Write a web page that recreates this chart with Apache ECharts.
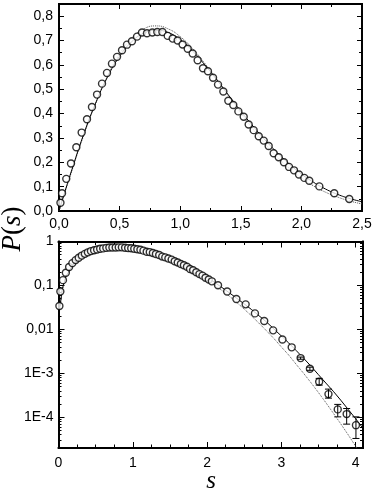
<!DOCTYPE html>
<html>
<head>
<meta charset="utf-8">
<script src="https://cdn.jsdelivr.net/npm/echarts@6/dist/echarts.min.js"></script>
<style>
  html, body { margin: 0; padding: 0; background: #fff; }
  #chart { width: 377px; height: 496px; }
</style>
</head>
<body>
<div id="chart"></div>
<script>
// measured spacing distribution (circles), same set in both panels
const sData = [0.012, 0.025, 0.06, 0.099, 0.143, 0.187, 0.231, 0.272, 0.314, 0.355, 0.396, 0.437, 0.479, 0.52,
  0.561, 0.602, 0.644, 0.685, 0.726, 0.77, 0.811, 0.853, 0.897, 0.938, 0.979, 1.02, 1.062, 1.103, 1.144,
  1.188, 1.229, 1.271, 1.312, 1.356, 1.397, 1.438, 1.48, 1.524, 1.565, 1.606, 1.648, 1.689, 1.73, 1.771,
  1.813, 1.856, 1.898, 1.939, 1.98, 2.024, 2.065, 2.148, 2.271, 2.395,
  2.52, 2.645, 2.77, 2.89, 3.015, 3.14, 3.26, 3.385, 3.51, 3.635, 3.76, 3.88, 4.005]
const pData = [0.034, 0.073, 0.132, 0.195, 0.262, 0.322, 0.377, 0.427, 0.478, 0.523, 0.567, 0.605, 0.633, 0.66,
  0.683, 0.697, 0.716, 0.733, 0.73, 0.733, 0.735, 0.735, 0.719, 0.708, 0.7, 0.684, 0.666, 0.647, 0.619,
  0.586, 0.574, 0.547, 0.519, 0.491, 0.453, 0.435, 0.409, 0.387, 0.355, 0.332, 0.307, 0.289, 0.267, 0.237,
  0.221, 0.2, 0.181, 0.167, 0.15, 0.136, 0.124, 0.101, 0.073, 0.049,
  0.0371, 0.0231, 0.0155, 0.0095, 0.0059, 0.0039, 0.00222, 0.00127, 0.00064, 0.000336, 0.000151, 0.000118, 0.000066]

// error bars visible in the tail (lower panel)
const errS = [3.26, 3.385, 3.51, 3.635, 3.76, 3.88, 4.005]
const errLow = [0.00209, 0.00117, 0.000538, 0.000272, 0.000102, 0.0000697, 0.0000329]
const errHigh = [0.00234, 0.00138, 0.000766, 0.000437, 0.000196, 0.000158, 0.000102]

// curves: solid and dotted
const curveS = [0, 0.02, 0.05, 0.1, 0.2, 0.3, 0.4, 0.5, 0.6, 0.7, 0.8, 0.9, 1.0, 1.1, 1.2, 1.3, 1.4, 1.5,
  1.6, 1.7, 1.8, 1.9, 2.0, 2.1, 2.2, 2.3, 2.4, 2.5, 2.6, 2.7, 2.8, 2.9, 3.0, 3.1, 3.2, 3.3, 3.4, 3.5,
  3.6, 3.7, 3.8, 3.9, 4.0, 4.1]
const solidP = [0, 0.033, 0.082, 0.16, 0.31, 0.44, 0.55, 0.635, 0.695, 0.73, 0.742, 0.733, 0.703, 0.658,
  0.602, 0.54, 0.475, 0.41, 0.349, 0.292, 0.24, 0.193, 0.152, 0.118, 0.09, 0.068, 0.051, 0.038, 0.0282,
  0.0204, 0.0148, 0.0102, 0.0071, 0.0049, 0.0033, 0.0022, 0.00145, 0.00093, 0.0006, 0.00039, 0.000245,
  0.000151, 0.000093, 0.000056]
const dottedP = [0, 0.031, 0.078, 0.156, 0.305, 0.439, 0.554, 0.645, 0.71, 0.748, 0.76, 0.748, 0.716, 0.668,
  0.608, 0.542, 0.472, 0.403, 0.337, 0.276, 0.222, 0.175, 0.136, 0.103, 0.077, 0.057, 0.041, 0.029, 0.0202,
  0.0138, 0.0093, 0.0062, 0.004, 0.0026, 0.0016, 0.001, 0.00061, 0.000365, 0.000215, 0.000124, 0.000071,
  0.00004, 0.000022, 0.0000119]

// tick labels
const topXTicks = [0, 0.5, 1, 1.5, 2, 2.5]
const topYTicks = [0, 0.1, 0.2, 0.3, 0.4, 0.5, 0.6, 0.7, 0.8]
const botXTicks = [0, 1, 2, 3, 4]
const botYTicks = [1, 0.1, 0.01, 0.001, 0.0001]
const botYLabels = ['1', '0,1', '0,01', '1E-3', '1E-4']

const black = '#000'
const comma = v => v.toFixed(1).replace('.', ',')
const lg = v => Math.log10(v)

function steps(from, to, step, skip) {
  const out = []
  for (let v = from; v <= to + 1e-9; v += step) {
    const r = Math.round(v * 1000) / 1000
    if (!skip || !skip(r)) out.push(r)
  }
  return out
}

// one axis = one side of the frame with its ticks (inside)
function axis(gridIndex, position, min, max, ticks, len, labels, fmt, margin) {
  return {
    type: 'value',
    gridIndex,
    position,
    min,
    max,
    axisLine: { show: true, onZero: false, lineStyle: { color: black, width: 1.8 } },
    axisTick: { show: true, inside: true, length: len, customValues: ticks, lineStyle: { color: black, width: 1 } },
    axisLabel: labels ? {
      show: true, customValues: labels, formatter: fmt, color: black,
      fontSize: 14, fontFamily: 'Liberation Sans', margin: margin
    } : { show: false },
    splitLine: { show: false }
  }
}

const topXMinor = steps(0.25, 2.25, 0.5)
const topYMinor = steps(0.05, 0.75, 0.1)
const botXMinor = steps(0.25, 4, 0.25, v => Math.abs(v - Math.round(v)) < 1e-6)
const botYMinor = []
for (let n = -5; n <= -1; n++) {
  for (let k = 2; k <= 9; k++) {
    const v = lg(k * Math.pow(10, n))
    if (v > -4.7 && v < 0) botYMinor.push(v)
  }
}
const botYMajor = botYTicks.map(lg)

const chart = echarts.init(document.getElementById('chart'))

const topMax = 0.85
const botXMax = 4.1
const botYMin = -4.7

const circle = {
  symbol: 'circle', symbolSize: 7,
  itemStyle: { color: '#fff', borderColor: black, borderWidth: 1.4 }
}

chart.setOption({
  animation: false,
  backgroundColor: '#fff',
  grid: [
    { left: 59, top: 4, width: 303, height: 207, outerBoundsMode: 'none' },
    { left: 58.5, top: 241.5, width: 304.5, height: 206.5, outerBoundsMode: 'none' }
  ],
  xAxis: [
    axis(0, 'bottom', 0, 2.5, topXTicks, 5, topXTicks, comma, 6),
    axis(0, 'bottom', 0, 2.5, topXMinor, 3),
    axis(0, 'top', 0, 2.5, topXTicks, 5),
    axis(0, 'top', 0, 2.5, topXMinor, 3),
    axis(1, 'bottom', 0, botXMax, botXTicks, 6, botXTicks, v => String(v), 8),
    axis(1, 'bottom', 0, botXMax, botXMinor, 3.5),
    axis(1, 'top', 0, botXMax, botXTicks, 6),
    axis(1, 'top', 0, botXMax, botXMinor, 3.5)
  ],
  yAxis: [
    axis(0, 'left', 0, topMax, topYTicks, 5, topYTicks, comma, 6),
    axis(0, 'left', 0, topMax, topYMinor, 3),
    axis(0, 'right', 0, topMax, topYTicks, 5),
    axis(0, 'right', 0, topMax, topYMinor, 3),
    axis(1, 'left', botYMin, 0, botYMajor, 6, botYMajor, v => botYLabels[Math.round(-v)], 5),
    axis(1, 'left', botYMin, 0, botYMinor, 3),
    axis(1, 'right', botYMin, 0, botYMajor, 6),
    axis(1, 'right', botYMin, 0, botYMinor, 3)
  ],
  graphic: [
    {
      type: 'text',
      x: 13,
      y: 229,
      rotation: Math.PI / 2,
      style: {
        text: '{i|P}{n|(}{i|s}{n|)}',
        align: 'center',
        verticalAlign: 'middle',
        fill: black,
        rich: {
          i: { fontFamily: 'Liberation Serif', fontStyle: 'italic', fontSize: 27, fill: black },
          n: { fontFamily: 'Liberation Serif', fontSize: 27, fill: black }
        }
      }
    },
    {
      type: 'text',
      x: 211,
      y: 481,
      style: {
        text: 's',
        align: 'center',
        verticalAlign: 'middle',
        fill: black,
        font: 'italic 25px "Liberation Serif"'
      }
    }
  ],
  series: [
    {
      type: 'line', xAxisIndex: 0, yAxisIndex: 0, symbol: 'none', smooth: true,
      lineStyle: { color: '#555', width: 1, type: 'dotted' },
      data: curveS.map((s, i) => [s, dottedP[i]]).filter(d => d[0] <= 2.5)
    },
    {
      type: 'line', xAxisIndex: 0, yAxisIndex: 0, symbol: 'none', smooth: true,
      lineStyle: { color: black, width: 1 },
      data: curveS.map((s, i) => [s, solidP[i]]).filter(d => d[0] <= 2.5)
    },
    Object.assign({
      type: 'scatter', xAxisIndex: 0, yAxisIndex: 0, z: 4,
      data: sData.map((s, i) => [s, pData[i]]).filter(d => d[0] <= 2.5)
    }, circle),
    {
      type: 'line', xAxisIndex: 4, yAxisIndex: 4, symbol: 'none',
      lineStyle: { color: '#555', width: 1, type: 'dotted' },
      data: curveS.map((s, i) => [s, dottedP[i]]).filter(d => d[1] > 0).map(d => [d[0], lg(d[1])])
    },
    {
      type: 'line', xAxisIndex: 4, yAxisIndex: 4, symbol: 'none',
      lineStyle: { color: black, width: 1 },
      data: curveS.map((s, i) => [s, solidP[i]]).filter(d => d[1] > 0).map(d => [d[0], lg(d[1])])
    },
    Object.assign({
      type: 'scatter', xAxisIndex: 4, yAxisIndex: 4, z: 4,
      data: sData.map((s, i) => [s, lg(pData[i])])
    }, circle),
    {
      type: 'custom', xAxisIndex: 4, yAxisIndex: 4, z: 5,
      data: errS.map((s, i) => [s, lg(errLow[i]), lg(errHigh[i])]),
      renderItem(params, api) {
        const lo = api.coord([api.value(0), api.value(1)])
        const hi = api.coord([api.value(0), api.value(2)])
        const w = 3.5
        const st = { stroke: black, lineWidth: 1 }
        return {
          type: 'group',
          children: [
            { type: 'line', shape: { x1: lo[0], y1: lo[1], x2: hi[0], y2: hi[1] }, style: st },
            { type: 'line', shape: { x1: lo[0] - w, y1: lo[1], x2: lo[0] + w, y2: lo[1] }, style: st },
            { type: 'line', shape: { x1: hi[0] - w, y1: hi[1], x2: hi[0] + w, y2: hi[1] }, style: st }
          ]
        }
      }
    }
  ]
})
</script>
</body>
</html>
